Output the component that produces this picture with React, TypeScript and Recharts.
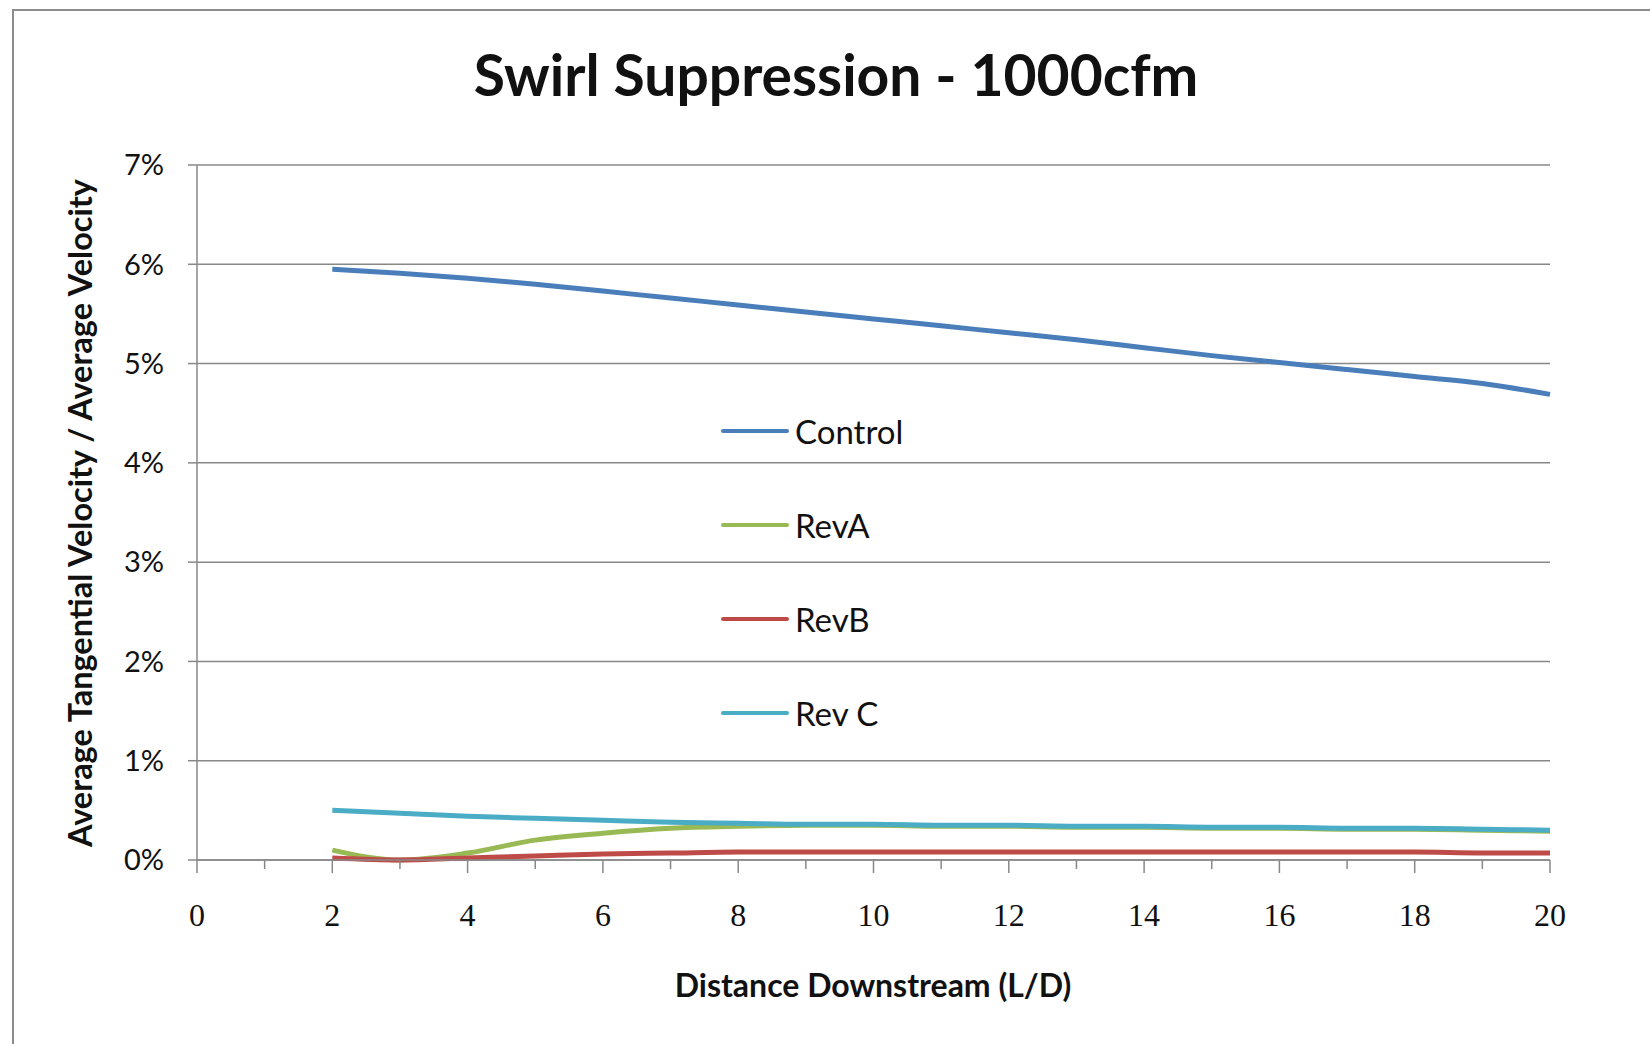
import React from 'react';
import { LineChart, Line, XAxis, YAxis, CartesianGrid, Legend } from 'recharts';

// distance downstream (L/D)
const distance = [2, 3, 4, 5, 6, 7, 8, 9, 10, 11, 12, 13, 14, 15, 16, 17, 18, 19, 20];

// average tangential velocity / average velocity, in %
const control = [5.95, 5.91, 5.86, 5.8, 5.73, 5.66, 5.59, 5.52, 5.45, 5.38, 5.31, 5.24, 5.16, 5.08, 5.01, 4.94, 4.87, 4.8, 4.69];
const revA = [0.1, 0.0, 0.07, 0.2, 0.27, 0.32, 0.34, 0.35, 0.35, 0.34, 0.34, 0.33, 0.33, 0.32, 0.32, 0.31, 0.31, 0.3, 0.29];
const revB = [0.02, 0.0, 0.02, 0.04, 0.06, 0.07, 0.08, 0.08, 0.08, 0.08, 0.08, 0.08, 0.08, 0.08, 0.08, 0.08, 0.08, 0.07, 0.07];
const revC = [0.5, 0.47, 0.44, 0.42, 0.4, 0.38, 0.37, 0.36, 0.36, 0.35, 0.35, 0.34, 0.34, 0.33, 0.33, 0.32, 0.32, 0.31, 0.3];

const seriesNames = ['Control', 'RevA', 'RevB', 'Rev C'];
const xTicks = [0, 1, 2, 3, 4, 5, 6, 7, 8, 9, 10, 11, 12, 13, 14, 15, 16, 17, 18, 19, 20];
const yTicks = [0, 1, 2, 3, 4, 5, 6, 7];

const data = distance.map((d, i) => ({
    d,
    control: control[i],
    revA: revA[i],
    revB: revB[i],
    revC: revC[i]
}));

const SANS = 'Lato, "Open Sans", sans-serif';
const SERIF = '"Liberation Serif", serif';
const GRID = '#888888';

const XTick = (props: any) => {
    const { x, y, payload } = props;
    const major = payload.value % 2 === 0;
    return (
        <g>
            <line x1={x} x2={x} y1={y} y2={y + (major ? 13 : 9)} stroke={GRID} strokeWidth={1.5} />
            {major && (
                <text x={x} y={y + 55} textAnchor="middle" dominantBaseline="central"
                    fontFamily={SERIF} fontSize={32} fill="#111">
                    {payload.value}
                </text>
            )}
        </g>
    );
};

const LegendList = (props: any) => {
    const items = [...(props.payload || [])].sort(
        (a: any, b: any) => seriesNames.indexOf(a.value) - seriesNames.indexOf(b.value)
    );
    return (
        <div>
            {items.map((p: any) => (
                <div key={p.value} style={{ display: 'flex', alignItems: 'center', height: 94 }}>
                    <div style={{ width: 68, height: 4.5, background: p.color, borderRadius: 2 }} />
                    <span style={{ marginLeft: 6, fontFamily: SANS, fontSize: 33, color: '#111' }}>{p.value}</span>
                </div>
            ))}
        </div>
    );
};

const App: React.FC = () => {
    return (
        <div style={{ position: 'absolute', left: 0, top: 0, width: 1650, height: 1044, overflow: 'hidden', background: '#fff' }}>
            <div style={{ position: 'absolute', left: 12, top: 9, width: 1700, height: 1100, border: '2px solid #8c8c8c' }} />
            <div style={{ position: 'absolute', left: 0, top: 0 }}>
                <LineChart width={1650} height={1044} data={data}
                    margin={{ top: 165, right: 100, left: 0, bottom: 0 }}>
                    <text x={836} y={96} textAnchor="middle" fontFamily={SANS} fontWeight={700} fontSize={57} fill="#111">
                        Swirl Suppression - 1000cfm
                    </text>
                    <text x={873} y={984} textAnchor="middle" dominantBaseline="central" fontFamily={SANS}
                        fontWeight={700} fontSize={32} fill="#111">
                        Distance Downstream (L/D)
                    </text>
                    <text x={79} y={513} textAnchor="middle" dominantBaseline="central" fontFamily={SANS}
                        fontWeight={700} fontSize={32.5} fill="#111" transform="rotate(-90 79 513)">
                        Average Tangential Velocity / Average Velocity
                    </text>
                    <CartesianGrid horizontal vertical={false} stroke={GRID} strokeWidth={1.5} />
                    <XAxis dataKey="d" type="number" domain={[0, 20]} ticks={xTicks} interval={0}
                        height={184} axisLine={{ stroke: GRID, strokeWidth: 1.5 }} tickLine={false}
                        tickSize={0} tickMargin={0} tick={<XTick />} />
                    <YAxis type="number" domain={[0, 7]} ticks={yTicks} interval={0} width={197}
                        axisLine={{ stroke: GRID, strokeWidth: 1.5 }} tickLine={{ stroke: GRID, strokeWidth: 1.5 }}
                        tickSize={9} tickMargin={24} tickFormatter={(v: number) => `${v}%`}
                        tick={{ fontFamily: SANS, fontSize: 29, fill: '#111' }} />
                    <Legend layout="horizontal" verticalAlign="middle" align="center" content={<LegendList />}
                        wrapperStyle={{ left: 721, top: 384, width: 220 }} />
                    <Line name="Control" dataKey="control" type="monotone" stroke="#4a7ebb" strokeWidth={5} dot={false} isAnimationActive={false} />
                    <Line name="RevA" dataKey="revA" type="monotone" stroke="#98b954" strokeWidth={5} dot={false} isAnimationActive={false} />
                    <Line name="RevB" dataKey="revB" type="monotone" stroke="#be4b48" strokeWidth={5} dot={false} isAnimationActive={false} />
                    <Line name="Rev C" dataKey="revC" type="monotone" stroke="#4bacc6" strokeWidth={5} dot={false} isAnimationActive={false} />
                </LineChart>
            </div>
        </div>
    );
};

export default App;
